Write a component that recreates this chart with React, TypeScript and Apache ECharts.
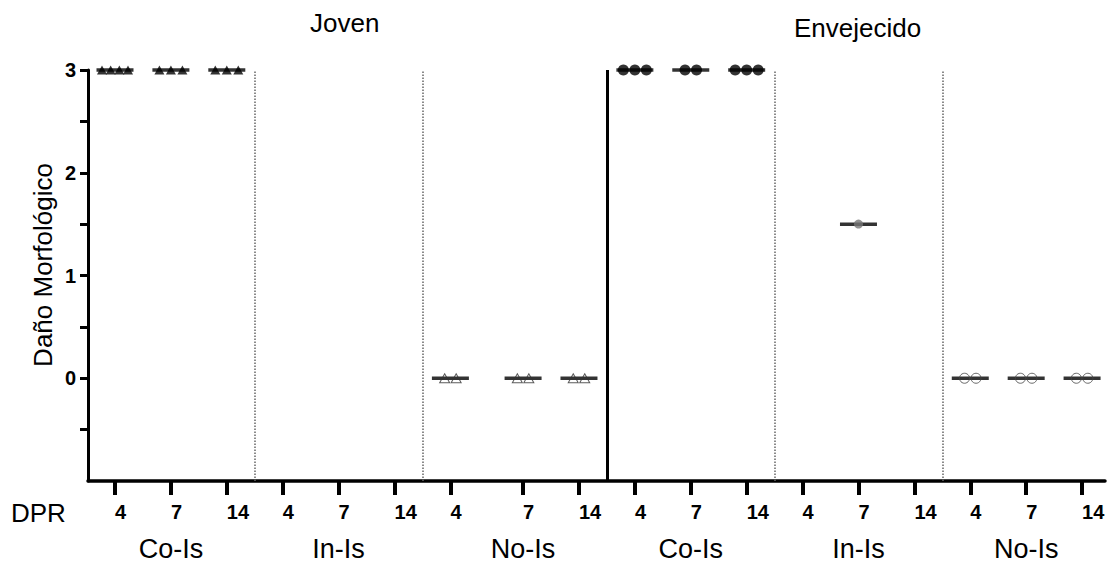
import React, { useEffect, useRef } from "react";
import * as echarts from "echarts";

// ---- Data ----
const ages = ["Joven", "Envejecido"];
const treatments = ["Co-Is", "In-Is", "No-Is"];
const dprLabels = ["4", "7", "14"];
const yTickValues = [-0.5, 0, 0.5, 1, 1.5, 2, 2.5, 3];

// values per DPR (4, 7, 14) for each group
const jovenCoIs = [[3, 3, 3, 3], [3, 3, 3], [3, 3, 3]];
const jovenInIs: number[][] = [[], [], []];
const jovenNoIs = [[0, 0], [0, 0], [0, 0]];
const envejecidoCoIs = [[3, 3, 3], [3, 3], [3, 3, 3]];
const envejecidoInIs = [[], [1.5], []];
const envejecidoNoIs = [[0, 0], [0, 0], [0, 0]];

const FONT = "Arial, 'Liberation Sans', Helvetica, sans-serif";

// layout of the 18 columns: a small extra gap after the 8th column
const slotPos = (k: number) => k + (k >= 7 ? 0.3 : 0);
const X_MIN = -0.483;
const X_MAX = 17.71;
const PX_PER_UNIT = 1017 / (X_MAX - X_MIN);

const median = (a: number[]) => {
  const s = [...a].sort((p, q) => p - q);
  const m = Math.floor(s.length / 2);
  return s.length % 2 ? s[m] : (s[m - 1] + s[m]) / 2;
};

function spread(groups: number[][], base: number, spacingPx = 11.5) {
  const pts: number[][] = [];
  groups.forEach((vals, d) => {
    const n = vals.length;
    const sp = n > 1 ? Math.min(spacingPx, 26 / (n - 1)) : 0;
    vals.forEach((v, i) => {
      const off = ((i - (n - 1) / 2) * sp) / PX_PER_UNIT;
      pts.push([slotPos(base + d) + off, v]);
    });
  });
  return pts;
}

function medians(groups: number[][], base: number) {
  const out: number[][] = [];
  groups.forEach((vals, d) => {
    if (vals.length) out.push([slotPos(base + d), median(vals)]);
  });
  return out;
}

const allGroups = [jovenCoIs, jovenInIs, jovenNoIs, envejecidoCoIs, envejecidoInIs, envejecidoNoIs];

export default function App() {
  const ref = useRef<HTMLDivElement>(null);
  useEffect(() => {
    document.body.style.margin = "0";
    const chart = echarts.init(ref.current!, undefined, { renderer: "svg" });
    const slots = Array.from({ length: 18 }, (_, k) => slotPos(k));
    const groupCenters = Array.from({ length: 6 }, (_, g) => slotPos(g * 3 + 1));
    const medianData: number[][] = [];
    allGroups.forEach((g, i) => medianData.push(...medians(g, i * 3)));

    const dividerPositions = [
      (slotPos(2) + slotPos(3)) / 2,
      (slotPos(5) + slotPos(6)) / 2,
      (slotPos(11) + slotPos(12)) / 2,
      (slotPos(14) + slotPos(15)) / 2,
    ];
    const ageDivider = (slotPos(8) + slotPos(9)) / 2;

    const option: any = {
      animation: false,
      backgroundColor: "#ffffff",
      grid: { left: 88, right: 13, top: 70, bottom: 82 },
      xAxis: [
        {
          type: "value",
          min: X_MIN,
          max: X_MAX,
          splitLine: { show: false },
          axisLine: { onZero: false, lineStyle: { color: "#000", width: 3.5 } },
          axisTick: {
            show: true,
            customValues: slots,
            length: 14,
            lineStyle: { color: "#000", width: 4 },
          },
          axisLabel: {
            customValues: slots,
            align: "left",
            margin: 21,
            color: "#000",
            fontSize: 20,
            fontWeight: "bold",
            fontFamily: FONT,
            hideOverlap: false,
            formatter: (v: number) => {
              const k = slots.findIndex((s) => Math.abs(s - v) < 0.01);
              return k >= 0 ? dprLabels[k % 3] : "";
            },
          },
        },
        {
          type: "value",
          min: X_MIN,
          max: X_MAX,
          position: "bottom",
          splitLine: { show: false },
          axisLine: { show: false, onZero: false },
          axisTick: { show: false },
          axisLabel: {
            customValues: groupCenters,
            margin: 54,
            color: "#000",
            fontSize: 27,
            fontFamily: FONT,
            hideOverlap: false,
            formatter: (v: number) => {
              const g = groupCenters.findIndex((s) => Math.abs(s - v) < 0.01);
              return g >= 0 ? treatments[g % 3] : "";
            },
          },
        },
      ],
      yAxis: {
        type: "value",
        min: -1,
        max: 3,
        interval: 1,
        splitLine: { show: false },
        axisLine: { show: true, onZero: false, lineStyle: { color: "#000", width: 3 } },
        axisTick: {
          show: true,
          customValues: yTickValues,
          length: 8,
          lineStyle: { color: "#000", width: 3 },
        },
        axisLabel: {
          margin: 12,
          color: "#000",
          fontSize: 20,
          fontWeight: "bold",
          fontFamily: FONT,
          formatter: (v: number) => (v < 0 ? "" : String(v)),
        },
      },
      graphic: [
        { type: "text", left: 345 - 35, top: 10, style: { text: ages[0], fontSize: 26, fontFamily: FONT, fill: "#000" } },
        { type: "text", left: 858 - 64, top: 15, style: { text: ages[1], fontSize: 26, fontFamily: FONT, fill: "#000" } },
        { type: "text", left: 11, top: 500, style: { text: "DPR", fontSize: 26, fontFamily: FONT, fill: "#000" } },
        {
          type: "text",
          x: 43,
          y: 265,
          rotation: Math.PI / 2,
          style: {
            text: "Daño Morfológico",
            fontSize: 26,
            fontFamily: FONT,
            fill: "#000",
            align: "center",
            verticalAlign: "middle",
          },
        },
      ],
      series: [
        {
          name: "median",
          type: "scatter",
          symbol: "rect",
          symbolSize: [37, 3.5],
          itemStyle: { color: "#000" },
          z: 2,
          silent: true,
          data: medianData,
          markLine: {
            silent: true,
            symbol: "none",
            label: { show: false },
            data: [
              ...dividerPositions.map((x) => ({
                xAxis: x,
                lineStyle: { color: "#666", type: "dotted", width: 1.5 },
              })),
              { xAxis: ageDivider, lineStyle: { color: "#000", type: "solid", width: 3 } },
            ],
          },
        },
        {
          name: "Joven Co-Is",
          type: "scatter",
          symbol: "triangle",
          symbolSize: [10, 9],
          itemStyle: { color: "#000" },
          z: 3,
          data: spread(jovenCoIs, 0),
        },
        {
          name: "Joven In-Is",
          type: "scatter",
          symbol: "triangle",
          symbolSize: [10, 9],
          itemStyle: { color: "#555" },
          z: 3,
          data: spread(jovenInIs, 3),
        },
        {
          name: "Joven No-Is",
          type: "scatter",
          symbol: "triangle",
          symbolSize: [10, 9],
          itemStyle: { color: "rgba(255,255,255,0)", borderColor: "#333", borderWidth: 1 },
          z: 3,
          data: spread(jovenNoIs, 6),
        },
        {
          name: "Envejecido Co-Is",
          type: "scatter",
          symbol: "circle",
          symbolSize: 11,
          itemStyle: { color: "#000" },
          z: 3,
          data: spread(envejecidoCoIs, 9),
        },
        {
          name: "Envejecido In-Is",
          type: "scatter",
          symbol: "circle",
          symbolSize: 9,
          itemStyle: { color: "#777" },
          z: 3,
          data: spread(envejecidoInIs, 12),
        },
        {
          name: "Envejecido No-Is",
          type: "scatter",
          symbol: "circle",
          symbolSize: 10,
          itemStyle: { color: "rgba(255,255,255,0)", borderColor: "#444", borderWidth: 1 },
          z: 3,
          data: spread(envejecidoNoIs, 15),
        },
      ],
    };
    chart.setOption(option);
    return () => chart.dispose();
  }, []);
  return (
    <div
      ref={ref}
      style={{ position: "absolute", left: 0, top: 0, width: 1118, height: 563 }}
    />
  );
}
